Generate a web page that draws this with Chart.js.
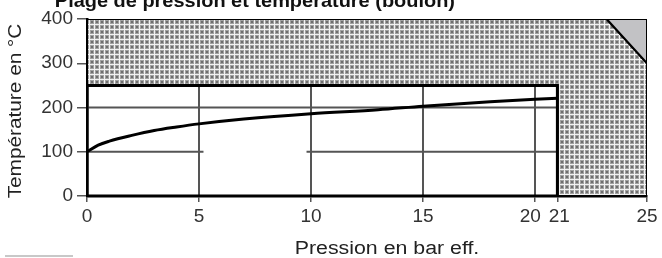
<!DOCTYPE html>
<html>
<head>
<meta charset="utf-8">
<script src="https://cdn.jsdelivr.net/npm/chart.js@4.4.1/dist/chart.umd.min.js"></script>
<style>
  html, body { margin: 0; padding: 0; background: #fff; }
  #wrap { width: 662px; height: 258px; }
</style>
</head>
<body>
<div id="wrap"><canvas id="myChart"></canvas></div>
<script>
// pression (bar eff.) / temperature (°C) de la courbe
const pressure = [0, 0.5, 1, 2, 3, 4, 5, 7, 10, 13, 15, 18, 21];
const temperature = [100, 115, 124, 137, 148, 156, 163, 174, 186, 195, 203, 213, 221];

// zone hachuree (hors plage autorisee)
const zoneX = [0, 0, 23.2, 25, 25, 21, 21, 0];
const zoneY = [250, 400, 400, 300, 0, 0, 250, 250];

// coin gris
const cornerX = [23.2, 25, 25, 23.2];
const cornerY = [400, 400, 300, 400];

// plage autorisee
const boxX = [0, 21, 21, 0, 0];
const boxY = [0, 0, 250, 250, 0];

// lignes de grille internes (null = coupure)
const gridX = [5, 5, null, 10, 10, null, 15, 15, null, 20, 20];
const gridXY = [0, 250, null, 0, 250, null, 0, 250, null, 0, 250];
const gridHX = [0, 5.2, null, 9.8, 21, null, 0, 21];
const gridHY = [100, 100, null, 100, 100, null, 200, 200];

const xTicks = [0, 5, 10, 15, 20, 21, 25];
const xTickLabels = ['0', '5', '10', '15', '20\u2002', '\u200921', '25'];
const yTicks = [0, 100, 200, 300, 400];

function pts(xs, ys) {
    return xs.map(function (x, i) {
        return { x: x === null ? NaN : x, y: ys[i] === null ? NaN : ys[i] };
    });
}

function makePattern() {
    const c = document.createElement('canvas');
    c.width = 5;
    c.height = 5;
    const p = c.getContext('2d');
    p.fillStyle = '#f4f4f4';
    p.fillRect(0, 0, 5, 5);
    p.fillStyle = '#a2a2a2';
    p.fillRect(0, 0, 4, 4);
    p.fillStyle = '#707070';
    p.fillRect(1, 1, 2, 2);
    return p.createPattern(c, 'repeat');
}

const ctx = document.getElementById('myChart').getContext('2d');

// texte etire horizontalement comme sur l'image source
function stretchedText(c, text, x, y, sx) {
    c.save();
    c.translate(x, y);
    c.scale(sx, 1);
    c.fillText(text, 0, 0);
    c.restore();
}

const textPlugin = {
    id: 'textPlugin',
    afterDraw: function (chart) {
        const c = chart.ctx;
        c.save();
        c.fillStyle = '#111';
        c.font = 'bold 19px "Liberation Sans", Arial, sans-serif';
        c.textAlign = 'right';
        c.textBaseline = 'alphabetic';
        stretchedText(c, 'Plage de pression et température (boulon)', 455, 7, 1.05);
        c.font = '18px "Liberation Sans", Arial, sans-serif';
        c.fillStyle = '#222';
        c.textAlign = 'center';
        stretchedText(c, 'Pression en bar eff.', 387, 254, 1.185);
        c.translate(21, 111);
        c.rotate(-Math.PI / 2);
        stretchedText(c, 'Température en °C', 0, 0, 1.155);
        c.restore();
        c.save();
        c.strokeStyle = '#c8c8c8';
        c.lineWidth = 2;
        c.beginPath();
        c.moveTo(5, 256);
        c.lineTo(73, 256);
        c.stroke();
        c.restore();
    }
};

new Chart(ctx, {
    type: 'line',
    data: {
        datasets: [{
            label: 'Courbe',
            data: pts(pressure, temperature),
            borderColor: '#000',
            borderWidth: 3,
            tension: 0.4,
            cubicInterpolationMode: 'monotone',
            pointRadius: 0,
            fill: false,
            order: 1
        }, {
            label: 'Plage',
            data: pts(boxX, boxY),
            borderColor: '#000',
            borderWidth: 3,
            pointRadius: 0,
            fill: false,
            order: 2
        }, {
            label: 'Grille',
            data: pts(gridX.concat([null], gridHX), gridXY.concat([null], gridHY)),
            borderColor: '#555',
            borderWidth: 2,
            pointRadius: 0,
            spanGaps: false,
            fill: false,
            order: 3
        }, {
            label: 'Coin',
            data: pts(cornerX, cornerY),
            borderColor: '#000',
            borderWidth: 2,
            backgroundColor: '#c2c2c5',
            pointRadius: 0,
            fill: 'shape',
            order: 4
        }, {
            label: 'Zone',
            data: pts(zoneX, zoneY),
            borderColor: '#000',
            borderWidth: 2,
            backgroundColor: makePattern(),
            pointRadius: 0,
            fill: 'shape',
            order: 5
        }]
    },
    options: {
        responsive: true,
        maintainAspectRatio: false,
        animation: false,
        layout: { padding: { top: 19, right: 15, left: 0, bottom: 0 } },
        plugins: {
            legend: { display: false },
            tooltip: { enabled: false }
        },
        scales: {
            x: {
                type: 'linear',
                min: 0,
                max: 25,
                afterBuildTicks: function (axis) {
                    axis.ticks = xTicks.map(function (v) { return { value: v }; });
                },
                afterFit: function (axis) { axis.height = 62; },
                grid: { drawOnChartArea: false, drawTicks: true, tickLength: 6, color: '#555', lineWidth: 1.5 },
                border: { display: true, color: '#000', width: 2.5 },
                ticks: {
                    autoSkip: false,
                    maxRotation: 0,
                    padding: 3,
                    color: '#333',
                    font: { size: 19, family: '"Liberation Sans", Arial, sans-serif' },
                    callback: function (value) {
                        const i = xTicks.indexOf(value);
                        return i >= 0 ? xTickLabels[i] : '';
                    }
                }
            },
            y: {
                min: 0,
                max: 400,
                afterBuildTicks: function (axis) {
                    axis.ticks = yTicks.map(function (v) { return { value: v }; });
                },
                afterFit: function (axis) { axis.width = 87; },
                grid: { drawOnChartArea: false, drawTicks: true, tickLength: 10, color: '#555', lineWidth: 1.5 },
                border: { display: true, color: '#000', width: 2.5 },
                ticks: {
                    padding: 4,
                    color: '#333',
                    font: { size: 19, family: '"Liberation Sans", Arial, sans-serif' }
                }
            }
        }
    },
    plugins: [textPlugin]
});
</script>
</body>
</html>
